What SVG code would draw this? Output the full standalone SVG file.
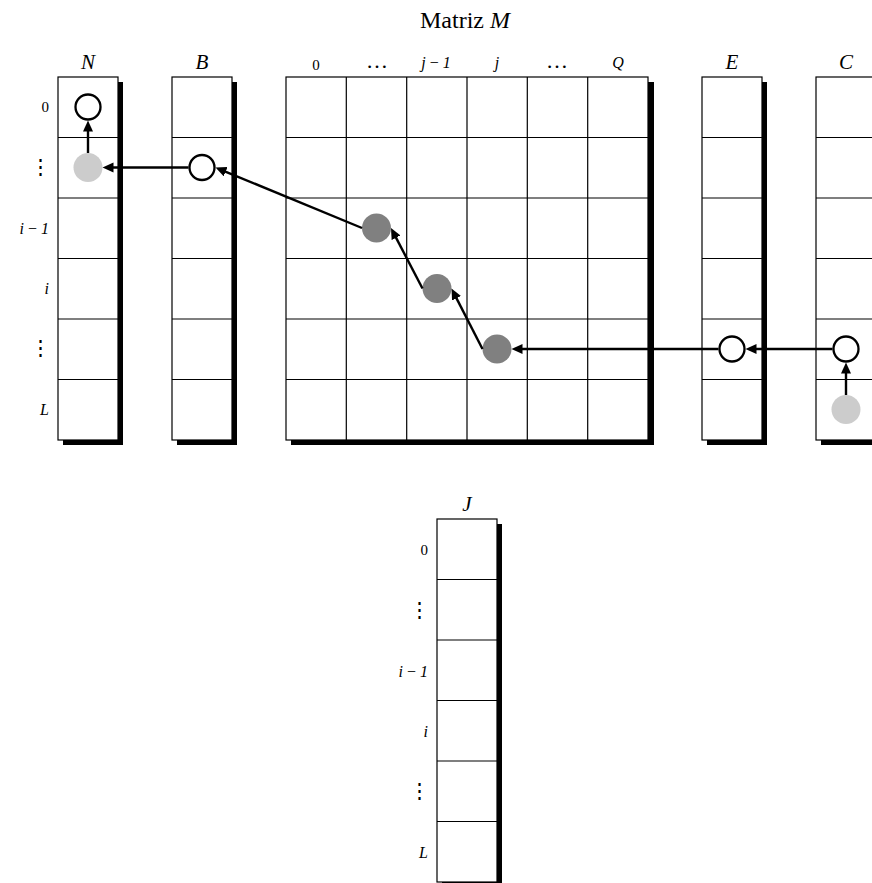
<svg xmlns="http://www.w3.org/2000/svg" width="872" height="883" viewBox="0 0 872 883">
<style>
text{font-family:"Liberation Serif","DejaVu Serif",serif;fill:#000}
.var{font-style:italic;font-size:21px;text-anchor:middle}
.hdr{font-size:15px;text-anchor:middle}
.hdri{font-size:16px;text-anchor:middle;font-style:italic}
.dots{font-size:22px;text-anchor:middle}
.row{font-size:15px;text-anchor:end}
.vd{font-size:21px;text-anchor:end;font-family:"DejaVu Serif",serif}
.rowi{font-size:16px;text-anchor:end;font-style:italic}
.title{font-size:24px;text-anchor:middle}
.box{fill:#fff;stroke:#000;stroke-width:1.2}
.shadow{fill:#000}
.grid{stroke:#000;stroke-width:1.2;fill:none}
.open{fill:#fff;stroke:#000;stroke-width:2.3}
.light{fill:#cccccc}
.dark{fill:#808080}
.arrow{stroke:#000;stroke-width:2.4;fill:none;marker-end:url(#ah)}
</style>
<defs>
<marker id="ah" markerUnits="userSpaceOnUse" markerWidth="13" markerHeight="11" refX="3" refY="5" orient="auto">
<path d="M0,0 L11,5 L0,10 z" fill="#000"/>
</marker>
</defs>
<rect width="872" height="883" fill="#fff"/>

<text class="title" x="465" y="28">Matriz <tspan font-style="italic">M</tspan></text>

<g id="N">
<rect class="shadow" x="63" y="82" width="60" height="363"/>
<rect class="box" x="58" y="77" width="60" height="363"/>
<path class="grid" d="M58,137.5H118M58,198H118M58,258.5H118M58,319H118M58,379.5H118"/>
<text class="var" x="88" y="69">N</text>
<text class="row" x="49" y="112">0</text>
<text class="vd" x="51" y="174">⋮</text>
<text class="rowi" x="49" y="234">i <tspan font-style="normal">−</tspan> 1</text>
<text class="rowi" x="49" y="294">i</text>
<text class="vd" x="51" y="355">⋮</text>
<text class="rowi" x="49" y="415">L</text>
<circle class="open" cx="88" cy="107" r="12.5"/>
<circle class="light" cx="88" cy="167.5" r="14.5"/>
</g>

<g id="B">
<rect class="shadow" x="177" y="82" width="60" height="363"/>
<rect class="box" x="172" y="77" width="60" height="363"/>
<path class="grid" d="M172,137.5H232M172,198H232M172,258.5H232M172,319H232M172,379.5H232"/>
<text class="var" x="202" y="69">B</text>
<circle class="open" cx="202" cy="167.5" r="12.5"/>
</g>

<g id="M">
<rect class="shadow" x="291" y="82" width="363" height="363"/>
<rect class="box" x="286" y="77" width="362" height="363"/>
<path class="grid" d="M286,137.5H648M286,198H648M286,258.5H648M286,319H648M286,379.5H648M346.3,77V440M406.7,77V440M467,77V440M527.3,77V440M587.7,77V440"/>
<text class="hdr" x="316" y="70">0</text>
<text class="dots" x="377" y="68">…</text>
<text class="hdri" x="436" y="68">j <tspan font-style="normal">−</tspan> 1</text>
<text class="hdri" x="497" y="68">j</text>
<text class="dots" x="557" y="68">…</text>
<text class="hdri" x="618" y="68">Q</text>
<circle class="dark" cx="376.5" cy="228" r="14.5"/>
<circle class="dark" cx="437" cy="288.5" r="14.5"/>
<circle class="dark" cx="497" cy="349" r="14.5"/>
</g>

<g id="E">
<rect class="shadow" x="707" y="82" width="60" height="363"/>
<rect class="box" x="702" y="77" width="60" height="363"/>
<path class="grid" d="M702,137.5H762M702,198H762M702,258.5H762M702,319H762M702,379.5H762"/>
<text class="var" x="732" y="69">E</text>
<circle class="open" cx="732" cy="349" r="12.5"/>
</g>

<g id="C">
<rect class="shadow" x="821" y="82" width="60" height="363"/>
<rect class="box" x="816" y="77" width="60" height="363"/>
<path class="grid" d="M816,137.5H876M816,198H876M816,258.5H876M816,319H876M816,379.5H876"/>
<text class="var" x="846" y="69">C</text>
<circle class="open" cx="846" cy="349" r="12.5"/>
<circle class="light" cx="846" cy="409.5" r="14.5"/>
</g>

<g id="J">
<rect class="shadow" x="442" y="524" width="60" height="363"/>
<rect class="box" x="437" y="519" width="60" height="363"/>
<path class="grid" d="M437,579.5H497M437,640H497M437,700.5H497M437,761H497M437,821.5H497"/>
<text class="var" x="467" y="511">J</text>
<text class="row" x="428" y="555">0</text>
<text class="vd" x="430" y="617">⋮</text>
<text class="rowi" x="428" y="677">i <tspan font-style="normal">−</tspan> 1</text>
<text class="rowi" x="428" y="737">i</text>
<text class="vd" x="430" y="798">⋮</text>
<text class="rowi" x="428" y="858">L</text>
</g>

<g id="connectors">
<line class="arrow" x1="88" y1="153" x2="88" y2="128.5"/>
<line class="arrow" x1="188.5" y1="167.5" x2="110.5" y2="167.5"/>
<line class="arrow" x1="362" y1="228" x2="222.9" y2="170.55"/>
<line class="arrow" x1="422.5" y1="288.5" x2="394.7" y2="235.1"/>
<line class="arrow" x1="482.5" y1="349" x2="455.15" y2="295.6"/>
<line class="arrow" x1="718.5" y1="349" x2="519.5" y2="349"/>
<line class="arrow" x1="832.5" y1="349" x2="753.5" y2="349"/>
<line class="arrow" x1="846" y1="395" x2="846" y2="370.5"/>
</g>
</svg>
